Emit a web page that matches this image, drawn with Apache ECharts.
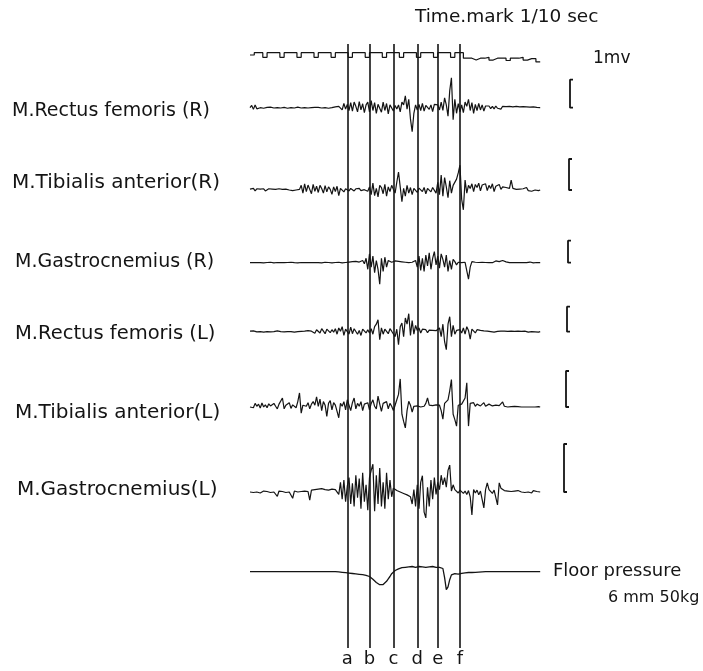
<!DOCTYPE html>
<html><head><meta charset="utf-8">
<script src="https://cdn.jsdelivr.net/npm/echarts@6/dist/echarts.min.js"></script>
<style>html,body{margin:0;padding:0;background:#fff}#c{width:703px;height:671px}</style>
</head><body><div id="c"></div>
<script>
// ---------------- DATA ----------------
const dt = 0.01;            // seconds per EMG / pressure sample
const markStep = 0.025;     // seconds per time-mark level
const timeMark = [
 0.5,1,1,0, 1,1,1,0, 1,1,1,0, 1,1,1,0, 1,1,1,0, 1,1,1,0,
 1,1,1,0, 1,1,1,0, 1,1,1,0, 1,1,1,0, 1,1,1,0, 1,1,1,0, 1,1,
 -0.2,-0.2,-0.6,-0.2, -0.2,0,-0.6,-0.2, -0.2,-0.2,-0.7,-0.2, -0.2,0,-0.6,-0.3, -0.3,-1,-1
];
// EMG in mV
const rectusFemorisR = [
 0,0.08,-0.06,0.1,-0.04,0.02,0,0.03,-0.02,0.01,
 0.01,-0.01,0.02,0,-0.01,0.01,0,0.02,-0.01,0,
 0.01,0,-0.02,0.01,0,0.01,-0.01,0,0.02,0,
 -0.01,0.01,0,0.01,-0.01,0.02,0,-0.01,0.01,0,
 0.01,0,-0.01,0.02,0,0.01,-0.02,0.03,0,0.02,
 0.03,-0.02,0.05,0.1,-0.08,0.15,-0.05,0.12,-0.1,0.18,
 -0.12,0.2,0.05,-0.15,0.22,-0.08,0.14,-0.18,0.1,0.2,
 -0.15,0.25,-0.1,0.18,-0.2,0.12,0.05,-0.16,0.2,-0.1,
 0.15,-0.22,0.1,0.05,-0.12,0.08,-0.05,0.1,-0.15,0.2,
 0.1,0.42,-0.05,0.3,-0.4,-0.86,-0.2,0.1,-0.08,0.12,
 -0.1,0.15,-0.12,0.08,0.14,-0.06,0.1,-0.14,0.12,0.05,
 0.1,-0.08,0.2,-0.1,0.35,0.1,-0.3,0.6,1.07,-0.43,
 0.3,-0.2,0.15,-0.15,0.1,-0.18,0.2,0.05,0.3,-0.1,
 0.18,-0.2,0.12,-0.1,0.15,-0.08,0.1,-0.12,0.06,0.04,
 0.06,-0.03,0.05,-0.04,0.06,-0.02,0.04,-0.05,0.05,-0.02,
 0.04,-0.03,0.05,-0.02,0.03,-0.04,0.05,-0.02,0.03,-0.03,
 0.04,-0.02,0.03,-0.03,0.02,0,0.03,-0.02,0.01,0,0
];
const tibialisAnteriorR = [
 0.03,-0.02,0.05,-0.03,0.04,-0.02,0.03,0,0.04,-0.03,
 0.02,0.04,-0.02,0.03,0,0.02,-0.03,0.04,0,0.02,
 -0.02,0.03,0.01,0,0.02,-0.02,0.03,0,0.01,0.02,
 0.15,-0.1,0.2,-0.05,0.16,0.02,-0.12,0.18,-0.04,0.12,
 -0.08,0.15,0.05,-0.1,0.14,-0.06,0.1,0.02,-0.14,0.1,
 -0.05,0.12,-0.18,0.05,0.08,-0.06,0.04,0.02,-0.03,0.05,
 0.02,-0.03,0.04,0,0.05,-0.02,0.03,0.01,0.06,-0.04,
 0.1,-0.15,0.22,-0.18,0.05,-0.22,0.15,0.08,-0.12,0.18,
 -0.2,0.1,-0.05,0.15,0.02,-0.1,0.25,0.58,0.1,-0.38,
 0.05,-0.2,0.15,-0.1,0.08,-0.15,0.05,0.1,-0.08,0.06,
 0.1,-0.05,0.08,-0.12,0.05,0.1,-0.06,0.08,0.02,-0.1,
 0.25,-0.15,0.48,-0.2,0.4,0.1,-0.25,0.3,-0.1,0.15,
 0.2,0.35,0.55,0.8,-0.3,-0.64,0.32,-0.1,0.15,0.05,
 0.2,-0.05,0.18,0.08,0.22,-0.03,0.16,0.1,0.2,-0.02,
 0.15,0.05,0.2,-0.05,0.12,0.08,0.18,0.02,0.1,0.05,
 0.08,0.1,0.05,0.32,0.05,0.06,0.02,0.05,0.03,-0.02,
 0.04,0.02,0.08,-0.02,0.03,-0.04,0.02,0,0.03,-0.02,0
];
const gastrocnemiusR = [
 0,0.01,0,-0.01,0,0.02,0,0.01,-0.01,0,
 0.01,0,0.02,0,-0.01,0,0.01,0,0,0.01,
 0,-0.01,0.01,0,0.02,0,0,0.01,-0.01,0,
 0.01,0,0,0.02,0,-0.01,0,0.01,0,0.01,
 0,0.01,-0.01,0,0.02,0,0.01,0,-0.01,0,
 0.01,0,0.02,0,-0.01,0,0.01,0.02,0.03,0.04,
 0.05,0.04,0.06,0.05,0.03,0.04,0.1,-0.05,0.2,-0.3,
 0.4,-0.2,0.3,-0.45,0.1,-0.3,-0.98,0.2,-0.4,0.25,
 -0.2,0.1,0.05,0.02,0.05,0.08,0.1,0.06,0.05,0.04,
 0.03,0.02,0.04,0,0.03,0.02,0.05,0.1,-0.2,0.3,
 -0.35,0.2,-0.4,0.35,-0.15,0.45,-0.3,0.2,0.5,-0.1,
 0.3,-0.25,0.4,0.15,-0.2,0.35,-0.4,0.1,-0.3,0.15,
 0.05,-0.1,0.02,0.05,0,-0.05,0.02,0.05,-0.75,-0.2,
 0.05,0,0.02,-0.02,0.01,0,0.02,0,0.01,0,
 0,0.02,0,0.03,0.08,0.12,0.05,0.02,0.1,0.13,
 0.04,0.01,0,-0.02,0,0.01,0,-0.01,0,0.02,
 0,-0.02,0,0.01,0.03,0,-0.01,0,0.01,0,0
];
const rectusFemorisL = [
 0.02,-0.02,0.03,0,-0.01,0.02,0,0.01,-0.02,0.02,
 0,0.03,-0.01,0.02,0,-0.02,0.03,0.01,0,0.02,
 -0.01,0.02,0,0.03,0,0.04,-0.02,0.02,0,0.03,
 0.01,0,0.02,-0.02,0.04,0,0.02,0.05,-0.06,0.08,
 0.1,-0.05,0.12,0.02,-0.08,0.1,0.05,-0.04,0.08,-0.02,
 0.12,-0.1,0.15,0.02,0.2,-0.15,0.1,0.05,-0.1,0.18,
 -0.08,0.12,0.2,-0.1,0.05,-0.15,0.1,0.16,-0.05,0.08,
 -0.05,0.12,-0.1,0.2,0.3,0.48,-0.32,0.15,-0.1,0.1,
 0.05,-0.08,0.12,0.02,0.1,-0.2,0.1,-0.52,0.2,0.35,
 -0.2,0.55,0.3,0.72,-0.15,0.45,-0.1,0.25,0.05,0.15,
 -0.05,0.1,0.02,0.08,-0.04,0.06,0.02,0.05,-0.03,0.04,
 0.05,0.15,-0.2,0.3,-0.4,-0.72,0.3,0.6,-0.2,0.25,
 -0.1,0.05,0.02,0.08,-0.05,0.15,-0.1,0.2,0.05,-0.3,
 0.1,0.18,-0.05,0.08,0.02,0.05,0,0.03,-0.02,0.02,
 0.03,0,0.02,-0.02,0.03,0.01,0,0.02,-0.01,0.02,
 0,0.01,-0.02,0.02,0,0.01,-0.01,0.02,0,0.01,
 -0.01,0.02,0,-0.02,0.01,0,0.02,-0.01,0,-0.02,0
];
const tibialisAnteriorL = [
 0,0.05,-0.02,0.1,0.02,0.08,-0.03,0.11,0,0.06,
 -0.02,0.09,0.03,0,0.1,0.02,-0.05,0.08,0.04,0.25,
 -0.05,0.05,0.02,0.12,-0.04,0.06,0.1,-0.02,0.15,0.39,
 -0.17,0.05,0.1,0.02,0.12,-0.05,0.08,0.15,0.05,0.28,
 0.02,0.22,-0.1,0.15,0.05,-0.26,0.1,0.18,-0.08,0.12,
 0.05,-0.12,-0.3,0.1,0.02,0.15,-0.08,0.2,0.05,-0.1,
 0.12,0.25,-0.05,0.1,0.02,0.15,-0.1,0.08,0.05,0.12,
 -0.08,0.1,0.2,0.02,-0.05,0.3,0.08,-0.12,0.1,0.05,
 0.15,-0.05,0.1,0.02,-0.1,0.05,0.2,0.35,0.78,-0.2,
 -0.4,-0.58,-0.1,0.16,0.05,-0.14,0.02,0.05,0.03,0.06,
 0,0.04,0.02,0.1,0.25,0.05,0.02,0.04,0.08,0.06,
 0.02,0.05,-0.1,-0.34,0.1,0.05,0.2,0.45,0.76,-0.2,
 -0.35,-0.53,0.05,0.02,0.08,0.1,0.25,0.67,-0.53,0.1,
 0.05,0.12,0.02,0.08,0.1,0.03,0.06,0.12,0.02,0.05,
 0.08,0.1,0.03,0.06,0.05,0.02,0.04,0.06,0.14,0.02,
 0.03,0,0.02,0.01,0,0.02,0,0.01,-0.01,0,
 0.01,0,0.02,0,-0.01,0,0.01,0,0,0.01,0
];
const gastrocnemiusL = [
 0,0.02,-0.01,0.02,0,0.03,-0.02,0.01,0.02,0,
 0.01,0.03,-0.01,0.02,0,0.01,-0.09,0.02,0,0.01,
 0.02,-0.01,0.03,0,0.01,-0.13,0.02,0.01,0,0.02,
 0.01,0,0.02,0.03,0.01,-0.17,0.04,0.06,0.05,0.07,
 0.06,0.05,0.07,0.06,0.05,0.06,0.04,0.05,0.06,0.04,
 0.05,0.08,-0.05,0.2,-0.15,0.25,-0.2,0.12,0.3,-0.25,
 0.18,-0.3,0.35,-0.12,0.28,-0.35,0.4,-0.2,0.15,-0.38,
 0.3,0.45,0.58,-0.4,0.35,-0.25,0.5,-0.3,0.2,-0.35,
 0.4,-0.15,0.25,-0.1,0.08,0.05,0.03,0.02,0,-0.02,
 -0.03,-0.05,-0.06,-0.08,-0.1,-0.25,0.05,-0.3,0.15,-0.35,
 0.2,0.34,-0.42,-0.54,0.1,-0.3,0.25,-0.15,0.3,-0.05,
 0.2,0.05,0.35,0.15,0.3,0.1,0.45,0.56,0.02,0.15,
 0.05,0.02,-0.02,0.04,0,-0.03,0.02,-0.05,0.03,-0.1,
 -0.48,0.05,-0.02,0.04,-0.06,0.02,0,-0.33,0.05,0.19,
 0.05,0.02,-0.03,0.04,0,-0.27,0.19,0.08,0.05,0.03,
 0.04,0.02,0.05,0.01,0.03,0.02,-0.01,0.03,0.04,0,
 0.02,-0.01,0.03,0,0.02,-0.02,0.03,0,0.01,0.02,0
];
// floor pressure in kg (relative)
const floorPressure = [
 0,0,0,0,0,0,0,0,0,0,
 0,0,0,0,0,0,0,0,0,0,
 0,0,0,0,0,0,0,0,0,0,
 0,0,0,0,0,0,0,0,0,0,
 0,0,0,0,0,0,0,0,0,0,
 0,0,-0.5,-1,-1.5,-2,-2.5,-3,-3.5,-4,
 -4.5,-5,-5.5,-6,-6.5,-7,-7.5,-8,-9,-10,
 -12,-15,-19,-23,-27,-30,-32.5,-33,-32,-29,
 -24,-18,-12,-5,0,3,5,7,9,10,
 12,11,13,12,11,13,12,11,12,13,
 11,12,13,11,12,12,11,13,12,11,
 12,11,12,8,-15,-45,-38,-20,-8,-6,
 -5,-4,-6,-4,-4,-3,-3,-2.5,-2,-2,
 -2,-1.5,-1.5,-1,-1,-1,-0.5,-0.5,0,0,
 0,0,0,0,0,0,0,0,0,0,
 0,0,0,0,0,0,0,0,0,0,
 0,0,0,0,0,0,0,0,0,0,0
];
const muscleNames = ['M.Rectus femoris (R)','M.Tibialis anterior(R)','M.Gastrocnemius (R)',
                     'M.Rectus femoris (L)','M.Tibialis anterior(L)','M.Gastrocnemius(L)'];
const emgSeries = [rectusFemorisR, tibialisAnteriorR, gastrocnemiusR, rectusFemorisL, tibialisAnteriorL, gastrocnemiusL];
const phaseNames = ['a','b','c','d','e','f'];
const phaseTimes = [0.568, 0.703, 0.838, 0.976, 1.104, 1.233]; // s
const calibration = [0, 1]; // mV scale bar

// ---------------- LAYOUT ----------------
const X0 = 250, PX_PER_S = 170.7, XMAX = 2.05, GW = XMAX * PX_PER_S;
const INK = '#141414';
const emgBase = [107.7, 190, 262.7, 331.7, 407, 492];
const emgGain = [28, 31, 22, 25, 36, 48]; // px per mV
const barX = [570, 569, 568, 567, 566, 564];
const labelPos = [[12,111,19],[12,182,20],[15,262,19],[15,333,19.5],[15,412,20],[17,489,20]];

const grids = [], xAxes = [], yAxes = [], series = [];
function addGrid(top, height, ymin, ymax) {
  grids.push({left: X0, top: top, width: GW, height: height});
  const gi = grids.length - 1;
  xAxes.push({type:'value', gridIndex: gi, min: 0, max: XMAX, show: false});
  yAxes.push({type:'value', gridIndex: gi, min: ymin, max: ymax, show: false});
  return gi;
}
const lineBase = {type:'line', showSymbol:false, symbol:'none', silent:true, clip:false, animation:false};

// background grid for phase lines
const gBg = addGrid(44, 604, 0, 1);
series.push(Object.assign({}, lineBase, {
  xAxisIndex: gBg, yAxisIndex: gBg, data: [[0, 0]], lineStyle: {opacity: 0},
  markLine: {
    symbol: 'none', silent: true, animation: false,
    lineStyle: {color: INK, width: 1.6, type: 'solid'},
    label: {show: true, position: 'start', distance: 2, formatter: p => p.name,
            color: INK, fontSize: 18, fontFamily: 'DejaVu Sans'},
    data: phaseTimes.map((t, i) => ({xAxis: t, name: phaseNames[i]}))
  }
}));

// time mark
const gTm = addGrid(52.7, 4.6, 0, 1);
series.push(Object.assign({}, lineBase, {
  xAxisIndex: gTm, yAxisIndex: gTm, step: 'end',
  data: timeMark.map((v, i) => [i * markStep, v]),
  lineStyle: {color: INK, width: 1.2}
}));

// EMG traces + calibration bars
emgSeries.forEach((arr, k) => {
  const g = emgGain[k];
  const gi = addGrid(emgBase[k] - 2 * g, 4 * g, -2, 2);
  series.push(Object.assign({}, lineBase, {
    xAxisIndex: gi, yAxisIndex: gi,
    data: arr.map((v, i) => [i * dt, v]),
    lineStyle: {color: INK, width: 1.2}
  }));
  const tb = (barX[k] - X0) / PX_PER_S, serif = 3 / PX_PER_S;
  series.push(Object.assign({}, lineBase, {
    xAxisIndex: gi, yAxisIndex: gi,
    data: [[tb + serif, calibration[0]], [tb, calibration[0]], [tb, calibration[1]], [tb + serif, calibration[1]]],
    lineStyle: {color: INK, width: 1.8}
  }));
});

// floor pressure (0.4 px per kg)
const gFp = addGrid(571.7 - 20, 40, -50, 50);
series.push(Object.assign({}, lineBase, {
  xAxisIndex: gFp, yAxisIndex: gFp,
  data: floorPressure.map((v, i) => [i * dt, v]),
  lineStyle: {color: INK, width: 1.3}
}));

// text
const graphics = muscleNames.map((n, k) => ({
  type: 'text', left: labelPos[k][0], top: labelPos[k][1] - 9.5,
  style: {text: n, font: labelPos[k][2] + 'px "DejaVu Sans"', fill: INK}
}));
graphics.push(
  {type:'text', left: 415, top: 8, style:{text:'Time.mark 1/10 sec', font:'18.5px "DejaVu Sans"', fill: INK}},
  {type:'text', left: 593, top: 50, style:{text:'1mv', font:'17px "DejaVu Sans"', fill: INK}},
  {type:'text', left: 553, top: 562, style:{text:'Floor pressure', font:'18px "DejaVu Sans"', fill: INK}},
  {type:'text', left: 608, top: 590, style:{text:'6 mm 50kg', font:'16px "DejaVu Sans"', fill: INK}}
);

const chart = echarts.init(document.getElementById('c'), null, {renderer: 'canvas'});
chart.setOption({
  backgroundColor: '#ffffff',
  animation: false,
  grid: grids, xAxis: xAxes, yAxis: yAxes, series: series,
  graphic: graphics
});
</script></body></html>
